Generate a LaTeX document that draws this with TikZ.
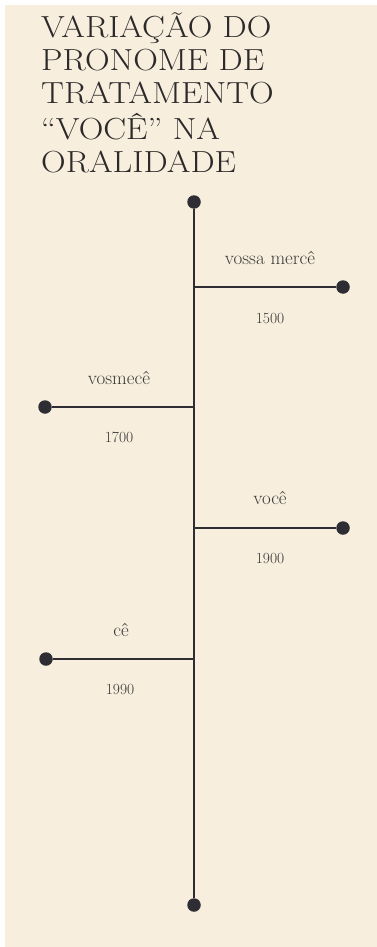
\documentclass[tikz,border=0pt]{standalone}
\usepackage{fontspec}
\usepackage{tikz}
\usetikzlibrary{positioning}
\definecolor{cream}{HTML}{F7EEDD}
\definecolor{ink}{HTML}{2F2D34}
\definecolor{txt}{HTML}{3A3838}
\definecolor{head}{HTML}{2B2929}
\tikzstyle{tdot}=[circle,fill=ink,inner sep=0mm,minimum size=13.5pt]
\tikzstyle{form}=[text=txt,inner sep=0mm,font=\fontsize{19}{22}\selectfont]
\tikzstyle{year}=[text=txt,inner sep=0mm,font=\fontsize{15.5}{18}\selectfont]
\tikzstyle{axis}=[draw=ink,line width=2.6pt]
\tikzstyle{branch}=[draw=ink,line width=2.2pt]
\begin{document}
\begin{tikzpicture}[x=1pt,y=-1pt]
        \useasboundingbox (0,0) rectangle (377,947);
        \fill[cream] (5,5) rectangle (377,947);
        \node[anchor=north west,inner sep=0mm,text=head,
              font=\fontsize{30.5}{32.8}\selectfont] at (41,13) (title)
              {\scalebox{1.12}[1]{\begin{tabular}{@{}l@{}}VARIAÇÃO DO\\PRONOME DE\\TRATAMENTO\\“VOCÊ” NA\\ORALIDADE\end{tabular}}};
        % linha do tempo
        \node[tdot] at (194,202) (top) {};
        \node[tdot] at (194,905) (bottom) {};
        \draw[axis] (top) -- (bottom);
        \coordinate (j1) at (194,287);
        \coordinate (j2) at (194,407);
        \coordinate (j3) at (194,528);
        \coordinate (j4) at (194,659);
        \node[tdot] at (343,287) (e1) {};
        \node[tdot] at (45,407) (e2) {};
        \node[tdot] at (343,528) (e3) {};
        \node[tdot] at (46,659) (e4) {};
        \draw[branch] (j1) -- (e1);
        \draw[branch] (j2) -- (e2);
        \draw[branch] (j3) -- (e3);
        \draw[branch] (j4) -- (e4);
        \node[form] at (270,258) (n1) {vossa mercê};
        \node[year] at (270,318) (y1) {1500};
        \node[form] at (119,378) (n2) {vosmecê};
        \node[year] at (119,437) (y2) {1700};
        \node[form] at (270,498) (n3) {você};
        \node[year] at (270,558) (y3) {1900};
        \node[form] at (121,630) (n4) {cê};
        \node[year] at (120,689) (y4) {1990};
      \end{tikzpicture}
\end{document}
